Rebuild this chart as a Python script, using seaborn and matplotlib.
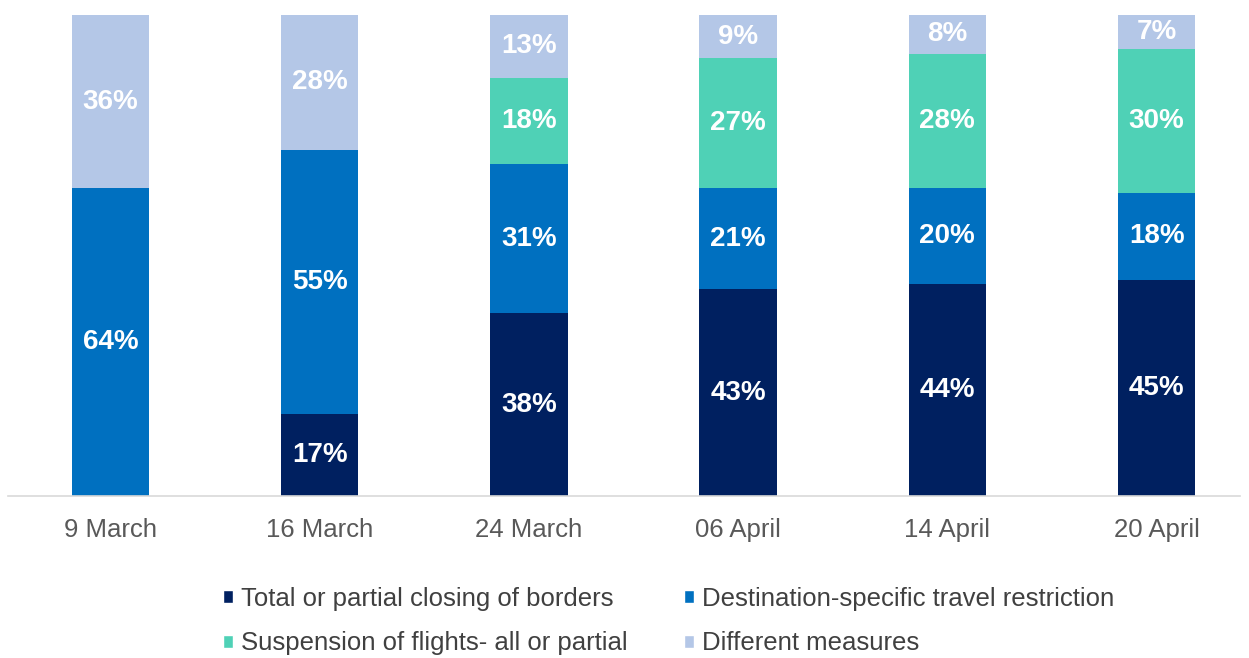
import pandas as pd
import seaborn as sns
import matplotlib.pyplot as plt
from matplotlib.patches import Patch

dates = ["9 March", "16 March", "24 March", "06 April", "14 April", "20 April"]
closing = [0, 17, 38, 43, 44, 45]
destination = [64, 55, 31, 21, 20, 18]
suspension = [0, 0, 18, 27, 28, 30]
different = [36, 28, 13, 9, 8, 7]

series_names = ["Total or partial closing of borders",
                "Destination-specific travel restriction",
                "Suspension of flights- all or partial",
                "Different measures"]
colors = ["#002060", "#0070C0", "#4FD1B6", "#B4C7E7"]

df = pd.DataFrame({"date": dates, "s0": closing, "s1": destination,
                   "s2": suspension, "s3": different})
cum = df[["s0", "s1", "s2", "s3"]].cumsum(axis=1)

sns.set_style("white")
plt.rcParams["font.family"] = ["Liberation Sans", "DejaVu Sans"]

fig = plt.figure(figsize=(12.49, 6.58), dpi=100)
ax = fig.add_axes([0.0064, 0.246, 0.9866, 0.731])

# draw from the tallest cumulative layer down so each shorter one sits on top
for i in [3, 2, 1, 0]:
    sns.barplot(x=df["date"], y=cum[f"s{i}"], color=colors[i], width=0.37,
                saturation=1, ax=ax, linewidth=0)

for j in range(len(df)):
    base = 0
    for i in range(4):
        v = df.loc[j, f"s{i}"]
        if v > 0:
            ax.text(j, base + v / 2, f"{v}%", ha="center", va="center",
                    color="white", fontsize=20, fontweight="bold")
        base += v

ax.set_ylim(0, 100)
ax.set_xlim(-0.49, 5.40)
ax.set_xlabel("")
ax.set_ylabel("")
ax.set_yticks([])
for s in ["top", "right", "left"]:
    ax.spines[s].set_visible(False)
ax.spines["bottom"].set_color("#D9D9D9")
ax.spines["bottom"].set_linewidth(1.2)
ax.tick_params(axis="x", length=0, pad=16, labelsize=18.5, labelcolor="#595959")

# legend fills column-wise, so order handles to get two rows as in the source
order = [0, 2, 1, 3]
handles = [Patch(facecolor=colors[k], label=series_names[k]) for k in order]
fig.legend(handles=handles, loc="center", bbox_to_anchor=(0.535, 0.056),
           ncol=2, frameon=False, fontsize=18.5, labelcolor="#404040",
           handlelength=0.4, handleheight=0.4, handletextpad=0.3,
           columnspacing=2.2, labelspacing=0.8, borderpad=0)

fig.savefig("out.png", dpi=100)
